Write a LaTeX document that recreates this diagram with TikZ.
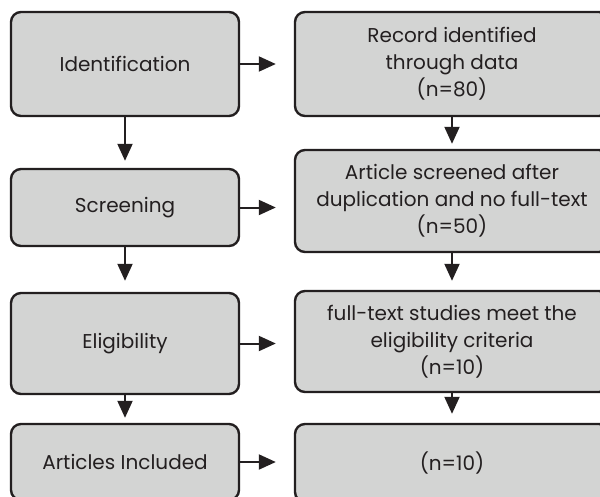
\documentclass[tikz,border=0pt]{standalone}
\usepackage{fontspec}
\setmainfont{Poppins}
\usetikzlibrary{arrows.meta}
\definecolor{boxgray}{HTML}{D3D4D3}
\definecolor{inkdark}{HTML}{231F20}

\begin{document}
\begin{tikzpicture}[x=1pt,y=-1pt,
  stage/.style={draw=inkdark,line width=2.4pt,fill=boxgray,rounded corners=10pt,
    text=inkdark,align=center,inner sep=0pt,font=\fontsize{20}{27}\selectfont},
  arr/.style={draw=inkdark,line width=2pt,-{Triangle[length=17pt,width=15pt]}}]
  \useasboundingbox (0,0) rectangle (600,496);
  \clip (0,0) rectangle (600,496);
  % left column
  \node[stage,minimum width=228pt,minimum height=104pt] (l1) at (125,64) {Identification};
  \node[stage,minimum width=228pt,minimum height=77pt] (l2) at (125,207.5) {Screening};
  \node[stage,minimum width=228pt,minimum height=101pt] (l3) at (125,343.5) {Eligibility};
  \node[stage,minimum width=228pt,minimum height=76pt] (l4) at (125,462) {Articles Included};
  % right column
  \node[stage,minimum width=314pt,minimum height=104pt] (r1) at (452,64) {Record identified\\through data\\(n=80)};
  \node[stage,minimum width=314pt,minimum height=102pt] (r2) at (452,201) {Article screened after\\duplication and no full-text\\(n=50)};
  \node[stage,minimum width=314pt,minimum height=101pt] (r3) at (452,341.5) {full-text studies meet the\\eligibility criteria\\(n=10)};
  \node[stage,minimum width=314pt,minimum height=78pt] (r4) at (452,463) {(n=10)};
  % arrows
  \draw[arr,shorten >=18pt] (l1.east) -- (l1.east -| r1.west);
  \draw[arr,shorten >=18pt] (l2.east) -- (l2.east -| r2.west);
  \draw[arr,shorten >=18pt] (l3.east) -- (l3.east -| r3.west);
  \draw[arr,shorten >=18pt] (l4.east) -- (l4.east -| r4.west);
  \draw[arr,shorten >=7pt] (l1.south) -- (l2.north);
  \draw[arr,shorten >=11pt] (l2.south) -- (l3.north);
  \draw[arr,shorten >=5pt] (l3.south) -- (l4.north);
  \draw[arr,shorten >=5pt] (r1.south) -- (r2.north);
  \draw[arr,shorten >=9pt] (r2.south) -- (r3.north);
  \draw[arr,shorten >=9pt] (r3.south) -- (r4.north);
\end{tikzpicture}
\end{document}
